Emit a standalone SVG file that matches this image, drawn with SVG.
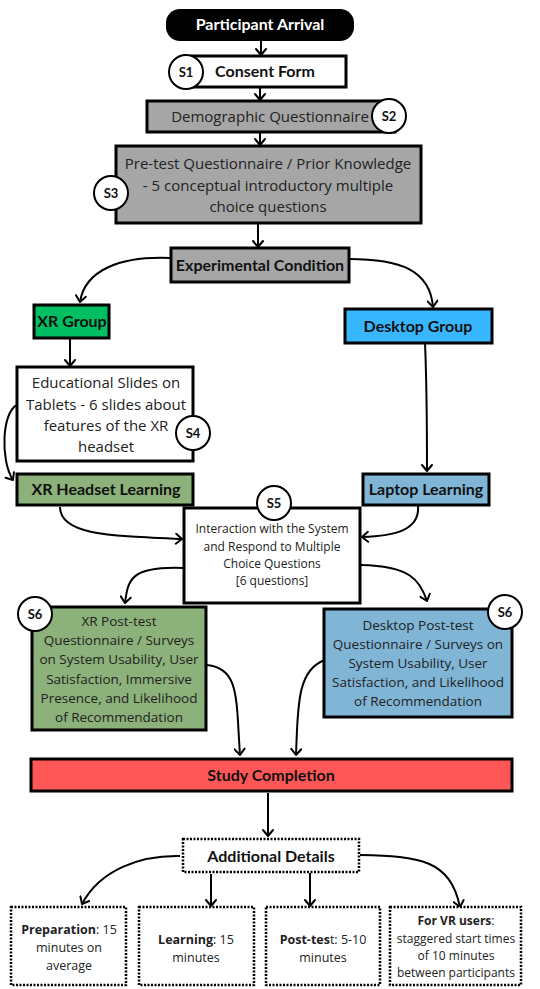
<svg xmlns="http://www.w3.org/2000/svg" width="540" height="989" viewBox="0 0 540 989">
<defs>
<marker id="ah" viewBox="0 0 12 12" refX="10" refY="6" markerWidth="12" markerHeight="12" markerUnits="userSpaceOnUse" orient="auto-start-reverse">
<path d="M1,4 L6,10 L11,4" fill="none" stroke="#000" stroke-width="2" stroke-linecap="round" stroke-linejoin="round" transform="rotate(-90 6 6)"/>
</marker>
<style>
.b{stroke:#000;stroke-width:3}
.d{fill:#fff;stroke:#000;stroke-width:2.5;stroke-dasharray:2 1.5}
.c{fill:#fff;stroke:#000;stroke-width:2}
.t{font-family:"Open Sans","Noto Sans",sans-serif;fill:#222;text-anchor:middle}
.bt{font-family:"Lato","Open Sans",sans-serif;font-weight:700;fill:#111;text-anchor:middle;font-size:16px}
.cl{font-family:"Lato","Open Sans",sans-serif;font-weight:700;font-size:13px;fill:#111;text-anchor:middle}
.con path{fill:none;stroke:#000;stroke-width:2;marker-end:url(#ah)}
</style>
</defs>

<g class="con">
<path d="M261,41 L261,55"/>
<path d="M260,87 L260,100"/>
<path d="M260,132 L260,145"/>
<path d="M258,224 L258,247"/>
<path d="M170,258 C120,256 85,270 80,302"/>
<path d="M349,259 C400,259 430,270 433,307"/>
<path d="M70,338 L70,366"/>
<path d="M17,405 C2,412 0,460 13,480"/>
<path d="M425,343 C427,390 427,430 427,471"/>
<path d="M60,507 C60,535 110,536 182,539"/>
<path d="M418,506 C420,530 395,536 362,537"/>
<path d="M183,568 C130,566 128,580 125,603"/>
<path d="M361,565 C410,566 420,580 427,601"/>
<path d="M207,665 C240,668 236,700 240,755"/>
<path d="M325,660 C296,670 298,710 296,755"/>
<path d="M268,793 L268,836"/>
<path d="M180,856 C140,855 100,870 82,904"/>
<path d="M211,874 L211,906"/>
<path d="M310,873 L310,906"/>
<path d="M360,855 C420,856 450,860 460,907"/>
</g>

<g id="arrival">
<rect x="166" y="9" width="188" height="32" rx="14" fill="#000"/>
<text class="bt" x="260" y="30" style="fill:#fff">Participant Arrival</text>
</g>

<g id="consent">
<rect class="b" x="192" y="56" width="154" height="31" fill="#fff"/>
<text class="bt" x="265" y="77">Consent Form</text>
<circle class="c" cx="186" cy="72" r="17"/>
<text class="cl" x="186" y="77">S1</text>
</g>

<g id="demographic">
<rect class="b" x="147" y="101" width="248" height="31" fill="#a6a6a6"/>
<text class="t" x="270" y="122" font-size="15">Demographic Questionnaire</text>
<circle class="c" cx="389" cy="116" r="17"/>
<text class="cl" x="389" y="121">S2</text>
</g>

<g id="pretest">
<rect class="b" x="116" y="146" width="305" height="77" fill="#a6a6a6"/>
<text class="t" x="268" y="169" font-size="15">Pre-test Questionnaire / Prior Knowledge</text>
<text class="t" x="268" y="191" font-size="15">- 5 conceptual introductory multiple</text>
<text class="t" x="268" y="212" font-size="15">choice questions</text>
<circle class="c" cx="111" cy="193" r="17"/>
<text class="cl" x="111" y="198">S3</text>
</g>

<g id="condition">
<rect class="b" x="171" y="248" width="178" height="34" fill="#a6a6a6"/>
<text class="bt" x="260" y="271">Experimental Condition</text>
</g>

<g id="xrgroup">
<rect class="b" x="34" y="305" width="75" height="33" fill="#00bf63"/>
<text class="bt" x="72" y="327">XR Group</text>
</g>

<g id="desktopgroup">
<rect class="b" x="345" y="309" width="147" height="34" fill="#38b6ff"/>
<text class="bt" x="418" y="332">Desktop Group</text>
</g>

<g id="slides">
<rect class="b" x="17" y="367" width="176" height="94" fill="#fff"/>
<text class="t" x="106" y="388" font-size="15">Educational Slides on</text>
<text class="t" x="106" y="410" font-size="15">Tablets - 6 slides about</text>
<text class="t" x="106" y="431" font-size="15">features of the XR</text>
<text class="t" x="106" y="452" font-size="15">headset</text>
<circle class="c" cx="193" cy="433" r="17"/>
<text class="cl" x="193" y="438">S4</text>
</g>

<g id="xrlearning">
<rect class="b" x="17" y="474" width="176" height="31" fill="#8cb17a"/>
<text class="bt" x="106" y="495">XR Headset Learning</text>
</g>

<g id="laptoplearning">
<rect class="b" x="363" y="474" width="126" height="31" fill="#80b5d6"/>
<text class="bt" x="426" y="495">Laptop Learning</text>
</g>

<g id="interaction">
<rect class="b" x="184" y="508" width="176" height="95" fill="#fff"/>
<text class="t" x="272" y="533" font-size="12">Interaction with the System</text>
<text class="t" x="272" y="551" font-size="12">and Respond to Multiple</text>
<text class="t" x="272" y="568" font-size="12">Choice Questions</text>
<text class="t" x="272" y="585" font-size="12">[6 questions]</text>
<circle class="c" cx="274" cy="503" r="17"/>
<text class="cl" x="274" y="508">S5</text>
</g>

<g id="xrpost">
<rect class="b" x="32" y="607" width="174" height="123" fill="#8cb17a"/>
<text class="t" x="119" y="626" font-size="13.5">XR Post-test</text>
<text class="t" x="119" y="645" font-size="13.5">Questionnaire / Surveys</text>
<text class="t" x="119" y="664" font-size="13.5">on System Usability, User</text>
<text class="t" x="119" y="684" font-size="13.5">Satisfaction, Immersive</text>
<text class="t" x="119" y="703" font-size="13.5">Presence, and Likelihood</text>
<text class="t" x="119" y="722" font-size="13.5">of Recommendation</text>
<circle class="c" cx="35" cy="614" r="17"/>
<text class="cl" x="35" y="619">S6</text>
</g>

<g id="desktoppost">
<rect class="b" x="324" y="609" width="188" height="108" fill="#80b5d6"/>
<text class="t" x="418" y="630" font-size="13.5">Desktop Post-test</text>
<text class="t" x="418" y="649" font-size="13.5">Questionnaire / Surveys on</text>
<text class="t" x="418" y="668" font-size="13.5">System Usability, User</text>
<text class="t" x="418" y="687" font-size="13.5">Satisfaction, and Likelihood</text>
<text class="t" x="418" y="706" font-size="13.5">of Recommendation</text>
<circle class="c" cx="505" cy="612" r="17"/>
<text class="cl" x="505" y="617">S6</text>
</g>

<g id="completion">
<rect class="b" x="31" y="759" width="481" height="32" fill="#ff5757"/>
<text class="bt" x="271" y="781">Study Completion</text>
</g>

<g id="additional">
<rect class="d" x="183" y="839" width="176" height="33"/>
<text class="bt" x="271" y="862">Additional Details</text>
</g>

<g id="preparation">
<rect class="d" x="11" y="907" width="115" height="78"/>
<text class="t" x="69" y="934" font-size="12.5"><tspan font-weight="700">Preparation</tspan>: 15</text>
<text class="t" x="69" y="952" font-size="12.5">minutes on</text>
<text class="t" x="69" y="970" font-size="12.5">average</text>
</g>

<g id="learning">
<rect class="d" x="139" y="907" width="115" height="78"/>
<text class="t" x="196" y="944" font-size="12.5"><tspan font-weight="700">Learning</tspan>: 15</text>
<text class="t" x="196" y="962" font-size="12.5">minutes</text>
</g>

<g id="posttest">
<rect class="d" x="266" y="907" width="114" height="78"/>
<text class="t" x="323" y="944" font-size="12.5"><tspan font-weight="700">Post-tes</tspan>t: 5-10</text>
<text class="t" x="323" y="962" font-size="12.5">minutes</text>
</g>

<g id="vrusers">
<rect class="d" x="390" y="907" width="131" height="78"/>
<text class="t" x="456" y="925" font-size="12"><tspan font-weight="700">For VR users</tspan>:</text>
<text class="t" x="456" y="943" font-size="12">staggered start times</text>
<text class="t" x="456" y="960" font-size="12">of 10 minutes</text>
<text class="t" x="456" y="977" font-size="12">between participants</text>
</g>
</svg>
